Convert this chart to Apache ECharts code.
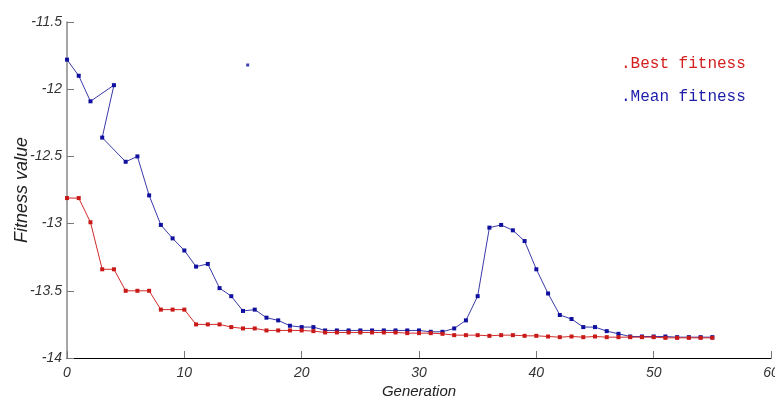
<!DOCTYPE html>
<html>
<head>
<meta charset="utf-8">
<script src="https://cdn.jsdelivr.net/npm/echarts@6/dist/echarts.min.js"></script>
<style>html,body{margin:0;padding:0;background:#fff}#c{width:775px;height:405px}</style>
</head>
<body>
<div id="c"></div>
<script>
// Best fitness per generation
const bestGen = [0,1,2,3,4,5,6,7,8,9,10,11,12,13,14,15,16,17,18,19,20,21,22,23,24,25,26,27,28,29,30,31,32,33,34,35,36,37,38,39,40,41,42,43,44,45,46,47,48,49,50,51,52,53,54,55];
const bestVal = [-12.81,-12.81,-12.99,-13.34,-13.34,-13.50,-13.50,-13.50,-13.64,-13.64,-13.64,-13.75,-13.75,-13.75,-13.77,-13.78,-13.78,-13.795,-13.795,-13.795,-13.795,-13.80,-13.81,-13.81,-13.81,-13.81,-13.81,-13.81,-13.81,-13.815,-13.815,-13.815,-13.82,-13.83,-13.83,-13.83,-13.835,-13.83,-13.83,-13.835,-13.835,-13.84,-13.845,-13.84,-13.845,-13.84,-13.845,-13.845,-13.845,-13.845,-13.845,-13.85,-13.85,-13.85,-13.85,-13.85];
// Mean fitness (plotted in the order drawn in the original: 2 -> 4 -> 3)
const meanGen = [0,1,2,4,3,5,6,7,8,9,10,11,12,13,14,15,16,17,18,19,20,21,22,23,24,25,26,27,28,29,30,31,32,33,34,35,36,37,38,39,40,41,42,43,44,45,46,47,48,49,50,51,52,53,54,55];
const meanVal = [-11.78,-11.90,-12.09,-11.97,-12.36,-12.54,-12.50,-12.79,-13.01,-13.11,-13.20,-13.32,-13.30,-13.48,-13.54,-13.65,-13.64,-13.70,-13.72,-13.76,-13.77,-13.77,-13.795,-13.795,-13.795,-13.795,-13.795,-13.795,-13.795,-13.795,-13.795,-13.805,-13.805,-13.78,-13.72,-13.54,-13.03,-13.01,-13.05,-13.13,-13.34,-13.52,-13.68,-13.71,-13.77,-13.77,-13.80,-13.82,-13.84,-13.84,-13.84,-13.84,-13.845,-13.845,-13.845,-13.845];
// Stray point in the original
const strayPoint = [[15.4, -11.82]];
const xTicks = {min: 0, max: 60, interval: 10};
const yTicks = {min: -14, max: -11.5, interval: 0.5};

const pair = (xs, ys) => xs.map((x, i) => [x, ys[i]]);
const chart = echarts.init(document.getElementById('c'), null, {renderer: 'canvas'});
const labelStyle = {fontFamily: 'Liberation Sans', fontStyle: 'italic', fontSize: 14, color: '#333'};
chart.setOption({
  animation: false,
  backgroundColor: '#fff',
  grid: {left: 67, right: 4, top: 22, bottom: 47, containLabel: false, outerBoundsMode: 'none'},
  legend: {
    orient: 'vertical', left: 611, top: 51, itemGap: 17, icon: 'none', itemWidth: 0, itemHeight: 10,
    selectedMode: false,
    textStyle: {fontFamily: 'Liberation Mono', fontSize: 16},
    data: [
      {name: '.Best fitness', textStyle: {color: '#d42020'}},
      {name: '.Mean fitness', textStyle: {color: '#1c1ca8'}}
    ]
  },
  xAxis: {
    type: 'value', min: xTicks.min, max: xTicks.max, interval: xTicks.interval,
    name: 'Generation', nameLocation: 'middle', nameGap: 26, nameMoveOverlap: false,
    nameTextStyle: {fontFamily: 'Liberation Sans', fontStyle: 'italic', fontSize: 15, color: '#222'},
    axisLine: {show: true, lineStyle: {color: '#000', width: 1.2}},
    axisTick: {show: true, inside: true, length: 7, lineStyle: {color: '#777'}},
    axisLabel: Object.assign({margin: 8}, labelStyle),
    splitLine: {show: false}
  },
  yAxis: {
    type: 'value', min: yTicks.min, max: yTicks.max, interval: yTicks.interval,
    name: 'Fitness value', nameLocation: 'middle', nameGap: 36, nameRotate: 90, nameMoveOverlap: false,
    nameTextStyle: {fontFamily: 'Liberation Sans', fontStyle: 'italic', fontSize: 18, color: '#222'},
    axisLine: {show: true, lineStyle: {color: '#888', width: 1.5}},
    axisTick: {show: true, inside: true, length: 7, lineStyle: {color: '#777'}},
    axisLabel: Object.assign({margin: 5}, labelStyle),
    splitLine: {show: false}
  },
  series: [
    {
      name: '.Mean fitness', type: 'line', data: pair(meanGen, meanVal), z: 2,
      symbol: 'rect', symbolSize: 4, showSymbol: true,
      lineStyle: {color: '#3a3aa8', width: 1},
      itemStyle: {color: '#1010a0'}
    },
    {
      name: '.Best fitness', type: 'line', data: pair(bestGen, bestVal), z: 3,
      symbol: 'rect', symbolSize: 4, showSymbol: true,
      lineStyle: {color: '#d42a2a', width: 1},
      itemStyle: {color: '#c81818'}
    },
    {
      name: 'stray', type: 'scatter', data: strayPoint, symbol: 'rect', symbolSize: 3,
      itemStyle: {color: '#1010a0'}
    }
  ]
});
</script>
</body>
</html>
